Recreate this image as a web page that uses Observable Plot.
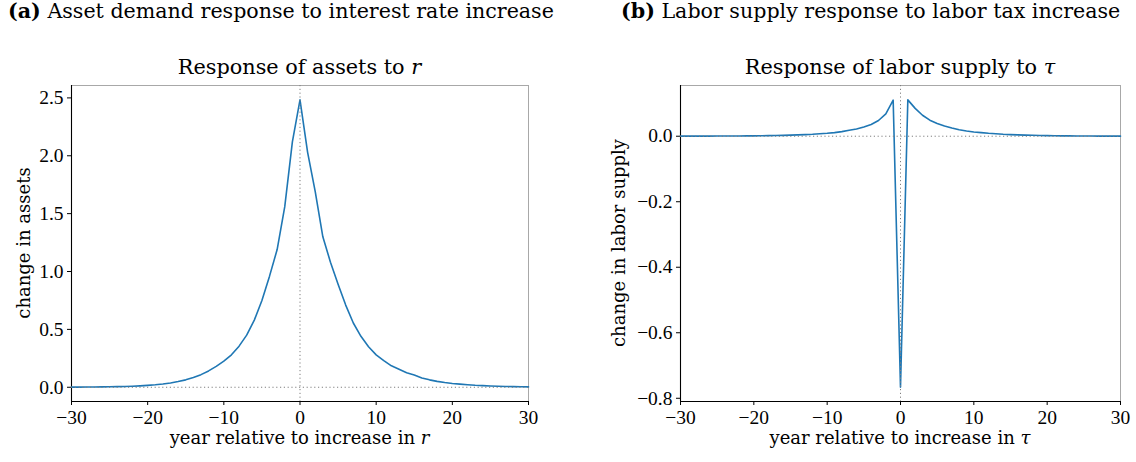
<!DOCTYPE html>
<html>
<head>
<meta charset="utf-8">
<script src="https://cdn.jsdelivr.net/npm/d3@7"></script>
<script src="https://cdn.jsdelivr.net/npm/@observablehq/plot@0.6"></script>
<style>
  body { margin: 0; background: #fff; font-family: "DejaVu Serif", serif; color: #000; }
  #wrap { position: relative; width: 1136px; height: 462px; overflow: hidden; }
  .panel { position: absolute; top: 0; }
  .txt { position: absolute; white-space: nowrap; line-height: 1; text-align: center; }
  .heading { font-size: 20.6px; text-align: left; }
  .heading b { font-weight: bold; }
  .title { font-size: 20.8px; }
  .xlabel { font-size: 18px; }
  .ylabel { font-size: 18px; transform: rotate(-90deg); transform-origin: 50% 50%; }
  i { font-style: italic; }
</style>
</head>
<body>
<div id="wrap"></div>
<script>
// Years relative to the shock
const years = [-30,-29,-28,-27,-26,-25,-24,-23,-22,-21,-20,-19,-18,-17,-16,-15,-14,-13,-12,-11,
  -10,-9,-8,-7,-6,-5,-4,-3,-2,-1,0,1,2,3,4,5,6,7,8,9,10,11,12,13,14,15,16,17,18,19,20,
  21,22,23,24,25,26,27,28,29,30];

// Change in assets after an interest rate increase
const assetResponse = [0.001,0.001,0.002,0.002,0.003,0.004,0.005,0.007,0.009,0.012,
  0.016,0.021,0.028,0.037,0.049,0.064,0.084,0.109,0.141,0.180,
  0.225,0.280,0.355,0.450,0.580,0.750,0.960,1.190,1.560,2.120,2.483,
  2.030,1.690,1.300,1.080,0.890,0.710,0.555,0.440,0.350,0.280,0.230,0.185,0.155,0.125,0.105,
  0.080,0.064,0.051,0.041,0.033,0.027,0.022,0.017,0.014,0.011,0.009,0.007,0.005,0.004,0.003];

// Change in labor supply after a labor tax increase
const laborResponse = [0.0002,0.0002,0.0003,0.0003,0.0004,0.0005,0.0006,0.0007,0.0008,0.0010,
  0.0012,0.0015,0.0018,0.0022,0.0027,0.0033,0.0040,0.0050,0.0060,0.0075,
  0.0090,0.0110,0.0140,0.0180,0.0220,0.0280,0.0360,0.0480,0.0680,0.1100,-0.7660,
  0.1110,0.0850,0.0640,0.0490,0.0390,0.0310,0.0250,0.0200,0.0160,0.0130,0.0110,0.0090,0.0075,0.0060,0.0050,
  0.0042,0.0035,0.0028,0.0023,0.0019,0.0015,0.0012,0.0010,0.0008,0.0007,0.0005,0.0004,0.0004,0.0003,0.0002];

const xTicks = [-30, -20, -10, 0, 10, 20, 30];
const assetTicks = [0, 0.5, 1.0, 1.5, 2.0, 2.5];
const laborTicks = [0, -0.2, -0.4, -0.6, -0.8];

const lineColor = "#1f77b4";
const wrap = document.getElementById("wrap");

function addText(cls, html, left, top, width) {
  const d = document.createElement("div");
  d.className = "txt " + cls;
  d.innerHTML = html;
  d.style.left = left + "px";
  d.style.top = top + "px";
  if (width) d.style.width = width + "px";
  wrap.appendChild(d);
  return d;
}

// Centred text helpers (horizontal and rotated)
function addCentered(cls, html, cx, top) {
  return addText(cls, html, cx - 300, top, 600);
}
function addVertical(cls, html, cx, cy, size) {
  return addText(cls, html, cx - 200, cy - size / 2, 400);
}

function panel({values, yTicks, left, width, marginLeft, marginRight}) {
  const data = years.map((t, i) => ({t, v: values[i]}));
  const lo = d3.min(values), hi = d3.max(values), pad = (hi - lo) * 0.05;
  const yDomain = [lo - pad, hi + pad];
  const chart = Plot.plot({
    width, height: 462,
    marginTop: 85, marginBottom: 61, marginLeft, marginRight,
    style: {fontFamily: "Liberation Serif, serif", fontSize: "19.5px", background: "transparent", color: "#000", overflow: "visible"},
    x: {domain: [-30, 30]},
    y: {domain: yDomain},
    marks: [
      Plot.frame({stroke: "#a8a8a8", strokeWidth: 1}),
      Plot.ruleX([-30], {stroke: "#000", strokeWidth: 1.1}),
      Plot.ruleY([yDomain[0]], {stroke: "#000", strokeWidth: 1.1}),
      Plot.axisX({ticks: xTicks, tickFormat: d3.format("d"), tickSize: 4, tickPadding: 5, label: null, fontSize: 19.5}),
      Plot.axisY({ticks: yTicks, tickFormat: d3.format(".1f"), tickSize: 4, tickPadding: 4, fontSize: 19.5, label: null}),
      Plot.line(data, {x: "t", y: "v", stroke: lineColor, strokeWidth: 1.6}),
      Plot.ruleY([0], {stroke: "#7f7f7f", strokeWidth: 1, strokeDasharray: "1.2,2.6"}),
      Plot.ruleX([0], {stroke: "#7f7f7f", strokeWidth: 1, strokeDasharray: "1.2,2.6"})
    ]
  });
  chart.classList.add("panel");
  chart.style.left = left + "px";
  wrap.appendChild(chart);
}

panel({values: assetResponse, yTicks: assetTicks, left: 0, width: 560, marginLeft: 71, marginRight: 32});
panel({values: laborResponse, yTicks: laborTicks, left: 570, width: 566, marginLeft: 110, marginRight: 16});

// Panel headings, chart titles and axis labels
addText("heading", "<b>(a)</b> Asset demand response to interest rate increase", 8, 1);
addText("heading", "<b>(b)</b> Labor supply response to labor tax increase", 621, 1);
addCentered("title", "Response of assets to <i>r</i>", 299.5, 57);
addCentered("title", "Response of labor supply to <i>τ</i>", 900, 57);
addCentered("xlabel", "year relative to increase in <i>r</i>", 299.5, 429);
addCentered("xlabel", "year relative to increase in <i>τ</i>", 900, 429);
addVertical("ylabel", "change in assets", 24, 243, 18);
addVertical("ylabel", "change in labor supply", 619, 243, 18);
</script>
</body>
</html>
